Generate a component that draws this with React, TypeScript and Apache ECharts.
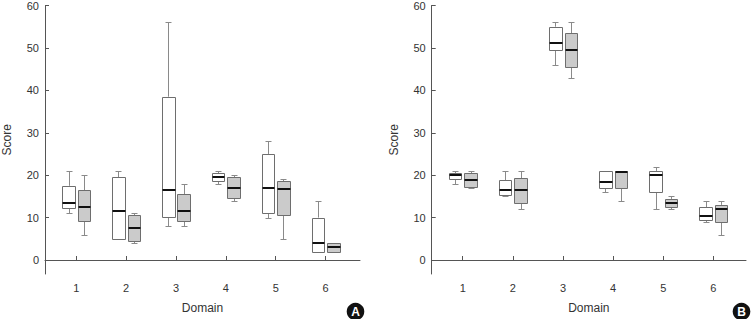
import React, { useEffect, useRef } from 'react';
import * as echarts from 'echarts';

const domains = [1, 2, 3, 4, 5, 6];
const yTickValues = [0, 10, 20, 30, 40, 50, 60];

// [min, q1, median, q3, max]
const panelAWhite = [
  [11, 12.2, 13.5, 17.5, 21],
  [5, 5, 11.6, 19.5, 21],
  [8, 10.1, 16.5, 38.5, 56],
  [18, 18.6, 19.5, 20.5, 21],
  [10, 11.1, 17, 25, 28],
  [2, 2, 4, 10, 14],
];
const panelAGray = [
  [6, 9.2, 12.5, 16.5, 20],
  [4, 4.5, 7.6, 10.5, 11],
  [8, 9.2, 11.6, 15.5, 18],
  [14, 14.5, 17, 19.5, 20],
  [5, 10.5, 16.8, 18.6, 19],
  [2, 2, 3, 4, 4],
];
const panelBWhite = [
  [18, 19, 20, 20.4, 21],
  [15, 15.4, 16.4, 18.8, 21],
  [46, 49.5, 51.2, 55, 56],
  [16, 17, 18.4, 21, 21],
  [12, 16, 20, 21, 22],
  [9, 9.4, 10.4, 12.4, 14],
];
const panelBGray = [
  [17, 17.3, 18.9, 20.5, 21],
  [12, 13.5, 16.4, 19.3, 21],
  [43, 45.5, 49.4, 53.5, 56],
  [14, 17, 20.7, 21, 21],
  [12, 12.5, 13.4, 14.4, 15],
  [6, 9, 12, 13, 14],
];

const FONT = '"Liberation Sans Narrow", "Liberation Sans", Arial, sans-serif';
const AXIS_COLOR = '#555';

const snap = (v: number) => Math.round(v) + 0.5;

function makeRender(offset: number, fill: string, stroke: string) {
  return (params: any, api: any) => {
    const xv = api.value(0) + offset;
    const pMin = api.coord([xv, api.value(1)]);
    const pQ1 = api.coord([xv, api.value(2)]);
    const pMed = api.coord([xv, api.value(3)]);
    const pQ3 = api.coord([xv, api.value(4)]);
    const pMax = api.coord([xv, api.value(5)]);
    const bw = api.size([0.25, 0])[0];
    const cw = api.size([0.12, 0])[0];
    const cx = snap(pMed[0]);
    const left = Math.round(pMed[0] - bw / 2) + 0.5;
    const right = Math.round(pMed[0] + bw / 2) + 0.5;
    const whisk = { stroke: '#8a8a8a', lineWidth: 1 };
    const children: any[] = [];
    if (pMin[1] - pQ1[1] > 0.5) {
      children.push({ type: 'line', shape: { x1: cx, y1: pQ1[1], x2: cx, y2: snap(pMin[1]) }, style: whisk });
      children.push({ type: 'line', shape: { x1: cx - cw / 2, y1: snap(pMin[1]), x2: cx + cw / 2, y2: snap(pMin[1]) }, style: whisk });
    }
    if (pQ3[1] - pMax[1] > 0.5) {
      children.push({ type: 'line', shape: { x1: cx, y1: pQ3[1], x2: cx, y2: snap(pMax[1]) }, style: whisk });
      children.push({ type: 'line', shape: { x1: cx - cw / 2, y1: snap(pMax[1]), x2: cx + cw / 2, y2: snap(pMax[1]) }, style: whisk });
    }
    const top = snap(pQ3[1]);
    const bottom = snap(pQ1[1]);
    children.push({
      type: 'rect',
      shape: { x: left, y: top, width: right - left, height: Math.max(bottom - top, 0) },
      style: { fill, stroke, lineWidth: 1 },
    });
    children.push({
      type: 'line',
      shape: { x1: left, y1: Math.round(pMed[1]), x2: right, y2: Math.round(pMed[1]) },
      style: { stroke: '#111', lineWidth: 2 },
    });
    return { type: 'group', children };
  };
}

function toData(arr: number[][]) {
  return domains.map((d, i) => [d, ...arr[i]]);
}

function makeXAxis(gridIndex: number, min: number, max: number) {
  return {
    type: 'value',
    gridIndex,
    min,
    max,
    name: 'Domain',
    nameLocation: 'middle',
    nameGap: 28,
    nameTextStyle: { fontFamily: FONT, fontSize: 12, color: '#333' },
    axisLine: { show: true, lineStyle: { color: AXIS_COLOR, width: 1 } },
    axisTick: { show: true, inside: true, length: 4, customValues: domains, lineStyle: { color: AXIS_COLOR } },
    axisLabel: { customValues: domains, fontFamily: FONT, fontSize: 11, color: '#333', margin: 8 },
    splitLine: { show: false },
  };
}

function makeYAxis(gridIndex: number) {
  return {
    type: 'value',
    gridIndex,
    min: -3.3,
    max: 60,
    name: 'Score',
    nameLocation: 'middle',
    nameRotate: 90,
    nameGap: 32,
    nameTextStyle: { fontFamily: FONT, fontSize: 12, color: '#333' },
    axisLine: { show: true, lineStyle: { color: AXIS_COLOR, width: 1 } },
    axisTick: { show: true, inside: true, length: 4, customValues: yTickValues, lineStyle: { color: AXIS_COLOR } },
    axisLabel: { customValues: yTickValues, fontFamily: FONT, fontSize: 11, color: '#333', margin: 6 },
    splitLine: { show: false },
  };
}

function badge(letter: string, cx: number, cy: number) {
  return {
    type: 'group',
    children: [
      { type: 'circle', shape: { cx, cy, r: 8.8 }, style: { fill: '#111' } },
      {
        type: 'text',
        x: cx,
        y: cy + 0.5,
        style: {
          text: letter,
          fill: '#fff',
          font: `bold 12px ${FONT}`,
          align: 'center',
          verticalAlign: 'middle',
        },
      },
    ],
  };
}

export default function App() {
  const ref = useRef<HTMLDivElement>(null);
  useEffect(() => {
    if (!ref.current) return;
    const chart = echarts.init(ref.current, undefined, { renderer: 'svg' });
    const option: any = {
      animation: false,
      backgroundColor: '#fff',
      grid: [
        { left: 44.7, top: 5, width: 315.3, height: 274 },
        { left: 431.7, top: 5, width: 314.3, height: 274 },
      ],
      xAxis: [makeXAxis(0, 0.373, 6.69), makeXAxis(1, 0.381, 6.65)],
      yAxis: [makeYAxis(0), makeYAxis(1)],
      series: [
        { type: 'custom', xAxisIndex: 0, yAxisIndex: 0, data: toData(panelAWhite), renderItem: makeRender(-0.155, '#ffffff', '#6e6e6e'), encode: { x: 0, y: [1, 2, 3, 4, 5] } },
        { type: 'custom', xAxisIndex: 0, yAxisIndex: 0, data: toData(panelAGray), renderItem: makeRender(0.155, '#cbcbcb', '#6e6e6e'), encode: { x: 0, y: [1, 2, 3, 4, 5] } },
        { type: 'custom', xAxisIndex: 1, yAxisIndex: 1, data: toData(panelBWhite), renderItem: makeRender(-0.155, '#ffffff', '#6e6e6e'), encode: { x: 0, y: [1, 2, 3, 4, 5] } },
        { type: 'custom', xAxisIndex: 1, yAxisIndex: 1, data: toData(panelBGray), renderItem: makeRender(0.155, '#cbcbcb', '#6e6e6e'), encode: { x: 0, y: [1, 2, 3, 4, 5] } },
      ],
      graphic: [badge('A', 355.5, 311.5), badge('B', 741.5, 311.5)],
    };
    chart.setOption(option);
    return () => chart.dispose();
  }, []);
  return (
    <div
      ref={ref}
      style={{ position: 'absolute', left: 0, top: 0, width: 751, height: 319 }}
    />
  );
}
